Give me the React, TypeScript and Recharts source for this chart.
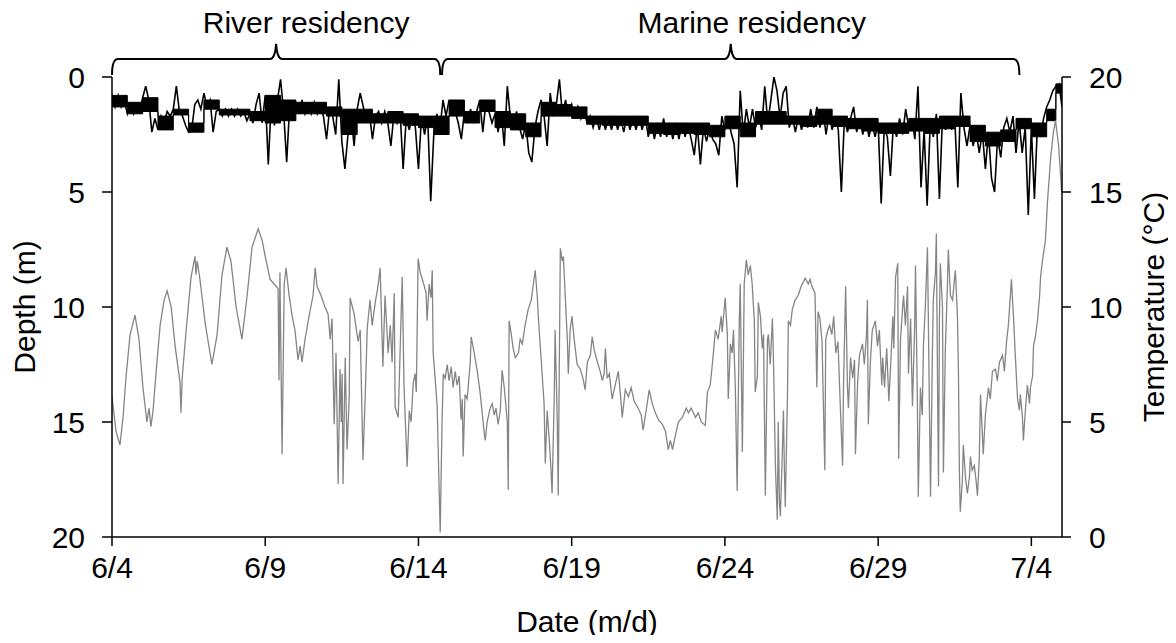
import { ComposedChart, Line, Area, XAxis, YAxis, ReferenceLine } from 'recharts'

const dateTicks = [0, 5, 10, 15, 20, 25, 30]
const dateLabels = ['6/4', '6/9', '6/14', '6/19', '6/24', '6/29', '7/4']
const depthTicks = [0, 5, 10, 15, 20]
const tempTicks = [0, 5, 10, 15, 20]

// tag depth (m), one reading every 0.1 day from 6/4
const depthStep = 0.1
const depthValues = [
  0.8, 1.3, 0.8, 1.3, 1.0, 1.6, 1.2, 1.6, 1.2, 1.5, 0.9, 0.4, 1.0,
  2.4, 1.8, 2.3, 1.7, 2.0, 1.5, 1.7, 1.4, 0.4, 1.5, 1.7, 2.1, 2.4, 2.3, 1.2,
  1.0, 1.4, 0.7, 1.3, 1.0, 2.4, 1.5, 1.4, 1.7, 1.4, 1.7, 1.4, 1.7, 1.4, 1.7, 1.5, 1.9, 1.6, 2.0, 1.2,
  0.7, 2.0, 0.8, 3.8, 1.0, 2.1, 1.0, 0.1, 1.5, 3.7, 1.2, 1.9,
  1.1, 1.6, 1.0, 1.6, 1.2, 1.6, 1.1, 1.6, 1.3, 1.7, 2.7, 1.4, 1.7, 2.5,
  0.1, 2.8, 4.0, 2.5, 1.6, 3.0, 1.4,
  0.7, 1.3, 1.9, 1.6, 2.7, 1.7, 1.5, 2.0, 1.5, 2.0, 3.0, 1.6, 2.0, 1.5, 4.0, 1.8, 2.3, 1.7, 2.2, 4.0,
  1.7, 2.5, 1.7, 5.4, 2.5, 1.6, 2.3,
  1.0, 1.7, 1.0, 1.6, 1.5, 2.0, 2.7, 1.5, 2.0, 1.4, 2.0, 1.5, 1.0, 2.4, 1.1,
  1.5, 2.0, 1.6, 2.4, 1.5, 3.0, 0.4, 1.8, 2.3, 1.5, 2.2, 2.7, 2.0, 3.3, 3.7, 2.2, 1.5,
  1.0, 1.7, 3.0, 0.7, 1.7, 1.2, 0.1, 1.7, 1.0, 1.7, 1.2, 1.7, 1.3, 1.8, 1.4, 2.0,
  1.7, 2.2, 1.7, 2.3, 1.7, 2.3, 1.8, 2.3, 1.7, 2.3, 1.8, 2.4, 1.7, 2.3, 1.8, 2.3, 1.7, 2.3, 1.7, 2.6,
  2.0, 2.7, 2.0, 2.6, 1.8, 2.6, 2.0, 2.7, 2.0, 2.7, 2.0, 2.6, 2.1, 2.7, 3.4, 2.1, 3.8, 2.2, 2.8, 2.2, 2.7, 2.9, 3.4,
  1.7, 2.3, 1.7, 2.4, 2.9, 4.8, 0.6, 2.5, 1.4, 2.2, 1.4, 2.2, 1.6, 2.3, 0.4, 2.0,
  1.0, 0.0, 0.6, 1.8, 0.7, 0.4, 2.2, 1.7, 2.4, 1.7, 2.3, 1.8, 2.2, 1.4, 2.2, 1.3, 2.2, 1.4, 2.5, 1.6, 2.3,
  1.7, 2.3, 5.0, 1.8, 2.4, 1.8, 1.3, 2.4, 1.8, 2.5, 1.8, 2.6, 2.0, 2.6, 2.0, 5.5,
  2.2, 2.6, 4.3, 2.0, 2.6, 1.8, 2.5, 1.4, 2.2, 1.8, 2.7, 0.4, 4.8, 2.3,
  5.6, 2.0, 2.6, 1.6, 5.3, 1.7, 2.3, 1.7, 2.3, 1.8, 4.8, 0.7,
  2.2, 3.0, 2.1, 3.0, 2.4, 3.3, 2.4, 4.0, 2.4, 4.4, 5.0, 2.6, 3.5, 2.2,
  1.8, 2.4, 1.7, 3.3, 1.9, 3.3, 2.2, 6.0, 2.2, 5.3, 2.0, 2.6,
  1.8, 1.3, 1.0, 0.6, 0.4, 0.3, 1.3,
]

// usual depth range of the tag (shallow / deep edge, m), every half day
const bandDays = [
  0, 0.5, 1, 1.5, 2, 2.5, 3, 3.5, 4, 4.5,
  5, 5.5, 6, 6.5, 7, 7.5, 8, 8.5, 9, 9.5,
  10, 10.5, 11, 11.5, 12, 12.5, 13, 13.5, 14, 14.5,
  15, 15.5, 16, 16.5, 17, 17.5, 18, 18.5, 19, 19.5,
  20, 20.5, 21, 21.5, 22, 22.5, 23, 23.5, 24, 24.5,
  25, 25.5, 26, 26.5, 27, 27.5, 28, 28.5, 29, 29.5,
  30, 30.5, 30.8, 31,
]
const bandTop = [
  0.8, 1.1, 0.9, 1.7, 1.4, 2.0, 1.0, 1.4, 1.4, 1.5,
  0.8, 1.0, 1.1, 1.1, 1.3, 1.4, 1.4, 1.6, 1.5, 1.6,
  1.7, 1.7, 1.0, 1.5, 1.0, 1.5, 1.6, 2.0, 1.1, 1.2,
  1.3, 1.7, 1.7, 1.7, 1.7, 2.0, 2.0, 2.0, 2.0, 2.1,
  1.7, 2.0, 1.5, 1.5, 1.7, 1.7, 1.4, 1.7, 1.8, 1.8,
  2.0, 2.0, 1.8, 1.8, 1.7, 1.7, 2.1, 2.4, 2.3, 1.8,
  2.0, 1.4, 0.3, 0.3,
]
const bandBottom = [
  1.3, 1.6, 1.5, 2.3, 1.65, 2.4, 1.4, 1.65, 1.65, 1.9,
  2.0, 1.9, 1.6, 1.6, 1.7, 2.5, 2.0, 2.0, 2.0, 2.1,
  2.2, 2.5, 1.7, 2.0, 1.5, 2.2, 2.3, 2.6, 1.7, 1.7,
  1.8, 2.05, 2.1, 2.1, 2.1, 2.45, 2.5, 2.45, 2.5, 2.6,
  2.25, 2.6, 2.05, 2.05, 2.05, 2.15, 2.05, 2.15, 2.25, 2.35,
  2.45, 2.45, 2.35, 2.45, 2.25, 2.15, 2.8, 3.0, 2.8, 2.25,
  2.6, 1.9, 0.7, 1.2,
]

// water temperature (°C), days since 6/4
const tempDays = [
  0.00, 0.13, 0.26, 0.36, 0.46, 0.59, 0.75, 0.88, 1.01, 1.14,
  1.21, 1.27, 1.34, 1.44, 1.57, 1.70, 1.80, 1.93, 2.06, 2.22,
  2.25, 2.29, 2.42, 2.58, 2.71, 2.74, 2.78, 2.87, 3.04, 3.26,
  3.43, 3.59, 3.75, 3.88, 4.05, 4.24, 4.41, 4.57, 4.77, 4.90,
  5.00, 5.16, 5.29, 5.42, 5.45, 5.48, 5.55, 5.62, 5.68, 5.78,
  5.88, 5.97, 6.07, 6.14, 6.20, 6.30, 6.43, 6.56, 6.63, 6.69,
  6.82, 6.95, 7.05, 7.12, 7.18, 7.25, 7.31, 7.38, 7.44, 7.48,
  7.51, 7.54, 7.61, 7.67, 7.74, 7.77, 7.90, 8.03, 8.10, 8.19,
  8.26, 8.33, 8.42, 8.49, 8.59, 8.68, 8.75, 8.84, 8.91, 9.01,
  9.08, 9.14, 9.21, 9.24, 9.34, 9.40, 9.47, 9.53, 9.63, 9.70,
  9.76, 9.83, 9.89, 9.93, 9.99, 10.06, 10.15, 10.25, 10.28, 10.35,
  10.41, 10.45, 10.48, 10.55, 10.61, 10.64, 10.71, 10.77, 10.81, 10.87,
  10.94, 11.00, 11.07, 11.13, 11.20, 11.26, 11.33, 11.39, 11.43, 11.46,
  11.52, 11.59, 11.69, 11.72, 11.82, 11.92, 12.01, 12.08, 12.14, 12.18,
  12.24, 12.34, 12.41, 12.47, 12.53, 12.60, 12.67, 12.73, 12.80, 12.90,
  12.93, 12.96, 13.03, 13.09, 13.16, 13.26, 13.32, 13.39, 13.48, 13.58,
  13.68, 13.75, 13.81, 13.88, 13.91, 13.97, 14.04, 14.10, 14.14, 14.20,
  14.27, 14.33, 14.36, 14.43, 14.46, 14.53, 14.56, 14.59, 14.63, 14.69,
  14.73, 14.79, 14.86, 14.89, 14.95, 15.01, 15.08, 15.18, 15.28, 15.37,
  15.44, 15.51, 15.61, 15.67, 15.74, 15.84, 15.93, 16.00, 16.06, 16.10,
  16.16, 16.23, 16.32, 16.42, 16.52, 16.59, 16.65, 16.75, 16.85, 16.94,
  17.04, 17.17, 17.27, 17.33, 17.43, 17.53, 17.63, 17.73, 17.83, 17.96,
  18.06, 18.15, 18.22, 18.29, 18.38, 18.48, 18.61, 18.74, 18.81, 18.90,
  19.04, 19.13, 19.23, 19.36, 19.43, 19.52, 19.59, 19.69, 19.78, 19.88,
  19.91, 20.01, 20.08, 20.11, 20.18, 20.24, 20.28, 20.34, 20.40, 20.47,
  20.50, 20.57, 20.63, 20.70, 20.76, 20.83, 20.89, 20.96, 20.99, 21.06,
  21.09, 21.16, 21.22, 21.26, 21.32, 21.39, 21.42, 21.48, 21.55, 21.58,
  21.65, 21.71, 21.74, 21.78, 21.81, 21.87, 21.91, 21.94, 21.97, 22.04,
  22.07, 22.14, 22.20, 22.29, 22.39, 22.49, 22.62, 22.72, 22.78, 22.84,
  22.94, 23.00, 23.04, 23.10, 23.17, 23.26, 23.29, 23.36, 23.42, 23.49,
  23.55, 23.62, 23.69, 23.76, 23.84, 23.87, 23.94, 24.00, 24.03, 24.10,
  24.17, 24.23, 24.26, 24.33, 24.39, 24.49, 24.55, 24.62, 24.65, 24.68,
  24.75, 24.81, 24.91, 24.98, 25.04, 25.12, 25.15, 25.21, 25.28, 25.35,
  25.41, 25.48, 25.51, 25.57, 25.64, 25.67, 25.73, 25.80, 25.83, 25.89,
  25.96, 25.99, 26.06, 26.12, 26.19, 26.22, 26.28, 26.31, 26.38, 26.44,
  26.48, 26.54, 26.61, 26.67, 26.71, 26.77, 26.80, 26.87, 26.90, 26.93,
  26.97, 27.00, 27.03, 27.10, 27.13, 27.19, 27.26, 27.29, 27.36, 27.43,
  27.49, 27.52, 27.59, 27.62, 27.65, 27.68, 27.75, 27.78, 27.85, 27.91,
  27.98, 28.01, 28.07, 28.14, 28.20, 28.24, 28.30, 28.34, 28.40, 28.43,
  28.50, 28.60, 28.66, 28.73, 28.83, 28.89, 28.96, 29.06, 29.12, 29.19,
  29.25, 29.35, 29.42, 29.48, 29.55, 29.61, 29.64, 29.71, 29.74, 29.81,
  29.87, 29.94, 29.97, 30.04, 30.07, 30.13, 30.20, 30.27, 30.30, 30.36,
  30.46, 30.53, 30.63, 30.72, 30.79, 30.89, 30.99,
]
const tempValues = [
  6.1, 4.6, 4.0, 5.2, 7.0, 8.8, 9.65, 8.6, 6.5, 5.0,
  5.6, 4.8, 5.5, 7.2, 9.2, 10.3, 10.7, 10.0, 8.3, 6.7,
  5.4, 6.9, 9.0, 11.3, 12.2, 11.4, 12.0, 11.2, 9.3, 7.5,
  8.8, 11.4, 12.6, 12.0, 10.0, 8.6, 10.5, 12.6, 13.4, 12.9,
  12.2, 11.2, 11.0, 10.8, 6.8, 11.5, 3.6, 11.0, 11.7, 10.5,
  9.6, 9.0, 7.7, 8.3, 7.6, 8.6, 9.6, 10.5, 11.7, 10.9,
  10.5, 10.0, 9.7, 8.6, 9.5, 4.9, 8.0, 2.3, 7.3, 5.0,
  7.1, 2.3, 7.8, 3.8, 6.0, 10.4, 9.7, 8.5, 9.0, 3.35,
  6.0, 9.1, 10.3, 9.2, 10.2, 10.9, 11.7, 7.4, 10.5, 8.0,
  9.2, 7.6, 10.6, 5.65, 5.2, 8.0, 11.3, 6.5, 3.05, 5.5,
  5.0, 6.7, 7.1, 6.3, 12.1, 11.5, 11.1, 10.6, 9.4, 11.0,
  10.4, 11.6, 8.0, 6.8, 5.7, 4.0, 0.2, 5.0, 7.1, 6.9,
  7.5, 6.8, 7.4, 6.5, 7.2, 6.6, 7.0, 5.1, 6.0, 3.5,
  6.2, 6.0, 7.6, 8.7, 8.0, 7.2, 6.3, 5.4, 4.6, 4.2,
  5.0, 5.6, 5.8, 5.3, 5.6, 4.9, 5.5, 7.25, 6.5, 5.0,
  2.05, 9.4, 8.8, 8.2, 7.8, 8.0, 8.6, 8.4, 9.2, 9.9,
  10.3, 11.0, 11.6, 10.4, 9.6, 8.4, 7.0, 5.8, 3.2, 5.5,
  4.2, 2.8, 1.9, 6.0, 9.0, 5.0, 1.8, 6.5, 12.55, 12.0,
  12.2, 10.5, 8.5, 7.1, 9.0, 9.6, 8.6, 7.5, 7.3, 6.9,
  6.4, 7.6, 7.9, 8.7, 8.1, 7.6, 7.2, 6.8, 7.1, 8.2,
  6.9, 7.1, 6.0, 6.6, 7.2, 6.2, 5.2, 6.4, 6.1, 6.5,
  5.9, 5.6, 5.3, 4.65, 5.5, 6.4, 5.8, 5.4, 5.1, 4.9,
  4.6, 3.8, 4.2, 3.8, 4.4, 5.0, 5.2, 5.6, 5.4, 5.6,
  5.2, 5.4, 5.0, 4.85, 6.3, 6.6, 7.5, 9.0, 8.6, 9.6,
  8.9, 10.4, 8.8, 6.0, 8.4, 8.0, 9.0, 6.5, 2.0, 9.5,
  11.0, 3.7, 11.0, 12.05, 11.4, 11.8, 11.0, 9.4, 6.3, 7.0,
  10.2, 9.6, 8.2, 8.8, 1.8, 8.6, 8.8, 7.5, 9.5, 8.0,
  3.0, 0.75, 5.0, 1.5, 0.9, 3.5, 5.5, 3.0, 1.3, 6.0,
  9.4, 9.2, 9.9, 10.3, 10.5, 10.9, 11.25, 11.0, 11.2, 10.9,
  10.6, 6.5, 9.8, 9.5, 8.5, 2.9, 8.6, 9.0, 9.2, 8.8,
  9.6, 8.0, 8.5, 5.9, 3.1, 6.5, 10.9, 6.5, 5.6, 7.8,
  6.9, 7.7, 3.6, 6.7, 7.9, 8.4, 7.5, 8.8, 10.3, 4.9,
  7.7, 9.0, 9.4, 8.3, 9.0, 6.6, 7.8, 6.5, 8.2, 5.9,
  7.5, 9.6, 8.2, 11.3, 11.9, 3.4, 8.6, 10.0, 10.5, 9.2,
  10.9, 7.1, 9.5, 5.7, 9.0, 11.8, 6.0, 1.75, 6.5, 5.3,
  8.4, 10.0, 12.6, 6.0, 1.75, 8.0, 10.3, 11.5, 13.2, 8.0,
  2.2, 9.5, 11.9, 10.0, 2.8, 8.0, 10.9, 12.5, 10.5, 10.3,
  11.2, 11.6, 9.5, 7.3, 3.0, 1.1, 2.5, 4.0, 2.6, 1.9,
  2.6, 3.5, 2.9, 3.1, 2.4, 1.8, 3.4, 6.2, 4.5, 3.6,
  5.3, 6.5, 6.0, 7.2, 7.3, 6.8, 7.6, 7.9, 7.2, 8.5,
  9.2, 11.2, 9.5, 7.8, 6.0, 5.5, 6.2, 5.2, 4.2, 5.6,
  6.6, 5.8, 6.5, 7.0, 8.3, 8.7, 9.4, 10.5, 11.3, 12.0,
  12.9, 14.65, 16.5, 17.6, 18.1, 17.0, 15.0,
]

// residency periods (days since 6/4) shown as braces above the plot
const residencyNames = ['River residency', 'Marine residency']
const residencyStart = [0, 10.77]
const residencyEnd = [10.71, 29.61]
const residencyTextShift = [30, 21]
const braceDepth = -0.09

const depthData = depthValues.map((depth, i) => ({ day: +(i * depthStep).toFixed(1), depth }))
const bandData = bandDays.map((day, i) => ({ day, band: [bandTop[i], bandBottom[i]] }))
const tempData = tempDays.map((day, i) => ({ day, temp: tempValues[i] }))

const FONT = 30

function Brace({ x1, x2, y1, title, shift }: any) {
  const bar = y1 - 16
  const mid = (x1 + x2) / 2
  const d =
    `M${x1},${y1} Q${x1},${bar} ${x1 + 6},${bar} L${mid - 6},${bar} ` +
    `Q${mid - 1},${bar} ${mid},${bar - 15} Q${mid + 1},${bar} ${mid + 6},${bar} ` +
    `L${x2 - 6},${bar} Q${x2},${bar} ${x2},${y1}`
  return (
    <g>
      <path d={d} fill="none" stroke="#000" strokeWidth={2} />
      <text x={mid + shift} y={bar - 26} textAnchor="middle" fontSize={FONT} fill="#000">
        {title}
      </text>
    </g>
  )
}

const axisStroke = { stroke: '#000', strokeWidth: 1.5 }

export default function App() {
  return (
    <div
      style={{
        width: 1176,
        height: 643,
        margin: -8,
        fontFamily: '"Liberation Sans", Arial, sans-serif',
      }}
    >
      <ComposedChart width={1176} height={643} margin={{ top: 77, right: 0, bottom: 0, left: 0 }}>
        <XAxis
          type="number"
          dataKey="day"
          domain={[0, 31]}
          ticks={dateTicks}
          tickFormatter={(v: number) => dateLabels[dateTicks.indexOf(v)]}
          allowDataOverflow
          height={106}
          axisLine={axisStroke}
          tickLine={axisStroke}
          tickSize={9}
          tickMargin={11}
          tick={{ fill: '#000', fontSize: FONT }}
          label={{ value: 'Date (m/d)', position: 'insideBottom', offset: 11, fill: '#000', fontSize: FONT }}
        />
        <YAxis
          yAxisId="depth"
          orientation="left"
          type="number"
          reversed
          domain={[0, 20]}
          ticks={depthTicks}
          allowDataOverflow
          width={112}
          axisLine={axisStroke}
          tickLine={axisStroke}
          tickSize={10}
          tickMargin={17}
          tick={{ fill: '#000', fontSize: FONT }}
          label={{
            value: 'Depth (m)', angle: -90, position: 'insideLeft', offset: 24,
            fill: '#000', fontSize: FONT, style: { textAnchor: 'middle' },
          }}
        />
        <YAxis
          yAxisId="temp"
          orientation="right"
          type="number"
          domain={[0, 20]}
          ticks={tempTicks}
          allowDataOverflow
          width={114}
          axisLine={axisStroke}
          tickLine={axisStroke}
          tickSize={9}
          tickMargin={18}
          tick={{ fill: '#000', fontSize: FONT }}
          label={{
            value: 'Temperature (°C)', angle: -90, position: 'insideRight', offset: 23,
            fill: '#000', fontSize: FONT, style: { textAnchor: 'middle' },
          }}
        />
        <Line
          yAxisId="temp"
          data={tempData}
          dataKey="temp"
          stroke="#858585"
          strokeWidth={1.3}
          dot={false}
          activeDot={false}
          isAnimationActive={false}
        />
        <Area
          yAxisId="depth"
          data={bandData}
          dataKey="band"
          type="stepAfter"
          stroke="#000"
          strokeWidth={1}
          fill="#000"
          fillOpacity={1}
          dot={false}
          activeDot={false}
          isAnimationActive={false}
        />
        <Line
          yAxisId="depth"
          data={depthData}
          dataKey="depth"
          stroke="#000"
          strokeWidth={1.6}
          dot={false}
          activeDot={false}
          isAnimationActive={false}
        />
        {residencyNames.map((name, i) => (
          <ReferenceLine
            key={name}
            yAxisId="depth"
            ifOverflow="visible"
            segment={[
              { x: residencyStart[i], y: braceDepth },
              { x: residencyEnd[i], y: braceDepth },
            ]}
            shape={(p: any) => <Brace {...p} title={name} shift={residencyTextShift[i]} />}
          />
        ))}
      </ComposedChart>
    </div>
  )
}
